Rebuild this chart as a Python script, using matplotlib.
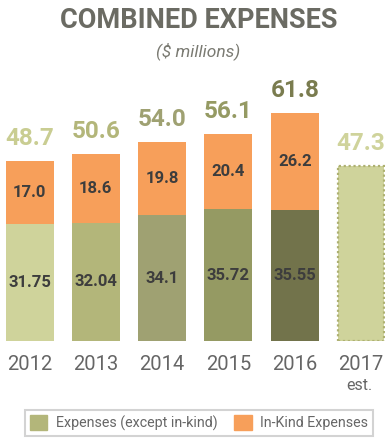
import matplotlib.pyplot as plt
import matplotlib.transforms as mtransforms
from matplotlib.patches import Patch

# Data
years = ['2012', '2013', '2014', '2015', '2016', '2017']
expenses = [31.75, 32.04, 34.1, 35.72, 35.55]
expense_labels = ['31.75', '32.04', '34.1', '35.72', '35.55']
in_kind = [17.0, 18.6, 19.8, 20.4, 26.2]
totals = [48.7, 50.6, 54.0, 56.1, 61.8]
estimate_2017 = 47.3

green_colors = ['#cfd39b', '#b3b67a', '#9fa172', '#959a63', '#72734b']
total_colors = ['#c9cd92', '#b3b67a', '#9fa172', '#959a63', '#7a7c4f']
orange = '#f79f5a'
dark = '#3d3d3d'
gray = '#6b6b63'

plt.rcParams['font.family'] = ['Roboto', 'DejaVu Sans']

fig = plt.figure(figsize=(3.85, 4.38), dpi=100)
ax = fig.add_axes([0, 97 / 438, 1, 341 / 438])

step = 66.3
x0 = 29.5
ax.set_xlim(-x0 / step, (385 - x0) / step)
ax.set_ylim(0, 341 / 3.69)
ax.axis('off')

pos = list(range(len(expenses)))
width = 48 / step
ax.bar(pos, expenses, width=width, color=green_colors)
ax.bar(pos, in_kind, width=width, bottom=expenses, color=orange)

# estimate bar with dotted outline
ax.bar([5], [estimate_2017], width=46 / step, color='#cfd39b',
       edgecolor='#aeb172', linestyle=(0, (1, 1.2)), linewidth=1.6)

for i in pos:
    ax.text(i, expenses[i] / 2, expense_labels[i],
            ha='center', va='center', fontsize=12, fontweight='bold',
            color=dark)
    ax.text(i, expenses[i] + in_kind[i] / 2, f'{in_kind[i]:.1f}',
            ha='center', va='center', fontsize=12, fontweight='bold',
            color=dark)
    ax.annotate(f'{totals[i]:.1f}', (i, totals[i]), xytext=(0, 8),
                textcoords='offset points', ha='center', va='bottom',
                fontsize=17.5, fontweight='bold', color=total_colors[i])
ax.annotate(f'{estimate_2017:.1f}', (5, estimate_2017), xytext=(0, 8),
            textcoords='offset points', ha='center', va='bottom',
            fontsize=17.5, fontweight='bold', color='#cfd39b')

# year labels
trans = mtransforms.blended_transform_factory(ax.transData, fig.transFigure)
for i, y in enumerate(years):
    ax.text(i, 1 - 365 / 438, y, transform=trans, ha='center', va='center',
            fontsize=14.5, color='#666666')
ax.text(4.97, 1 - 385 / 438, 'est.', transform=trans, ha='center',
        va='center', fontsize=11.5, color='#666666')

fig.text(0.515, 1 - 21 / 438, 'COMBINED EXPENSES', ha='center', va='center',
         fontsize=19.5, fontweight='bold', color=gray)
fig.text(0.515, 1 - 51 / 438, '($ millions)', ha='center', va='center',
         fontsize=12.5, style='italic', color='#7a7a72')

handles = [Patch(color='#b3b67a', label='Expenses (except in-kind)'),
           Patch(color=orange, label='In-Kind Expenses')]
leg = fig.legend(handles=handles, loc='center', ncol=2,
                 bbox_to_anchor=(199 / 385, 1 - 423 / 438), frameon=True,
                 fancybox=False, fontsize=10.3, handlelength=1.2,
                 handleheight=1.2, columnspacing=1.2, handletextpad=0.6,
                 borderpad=0.35, labelcolor='#666666')
leg.get_frame().set_edgecolor('#c8c8c8')
leg.get_frame().set_linewidth(1.5)

plt.savefig('out.png', dpi=100)
